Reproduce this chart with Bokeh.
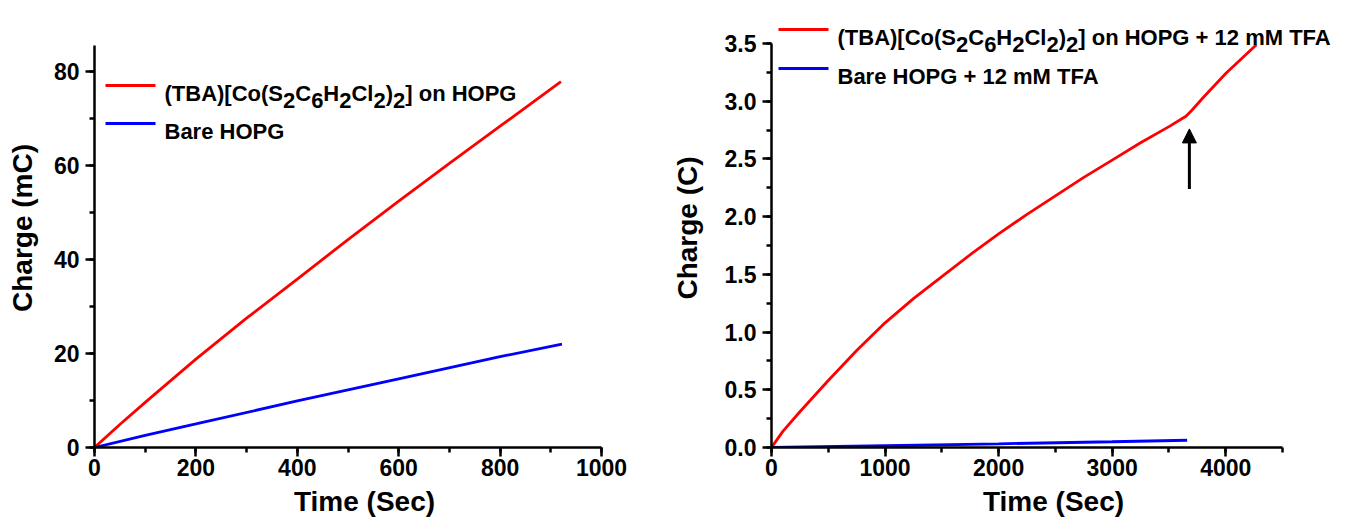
from bokeh.plotting import figure
from bokeh.models import Range1d, SingleIntervalTicker, NumeralTickFormatter, Label, Arrow, NormalHead
from bokeh.layouts import row
from bokeh.embed import file_html
from bokeh.resources import INLINE

# ---------------- data ----------------
time_left_red = [0, 50, 100, 200, 300, 400, 500, 600, 700, 800, 920]
charge_left_red = [0, 4.9, 9.6, 18.8, 27.5, 35.8, 44.2, 52.4, 60.4, 68.3, 77.8]
time_left_blue = [0, 100, 200, 400, 600, 800, 922]
charge_left_blue = [0, 2.6, 5.0, 9.9, 14.6, 19.3, 22.0]

time_right_red = [0, 100, 250, 500, 750, 1000, 1250, 1500, 1750, 2000, 2250, 2500,
                  2750, 3000, 3250, 3500, 3650, 3700, 3800, 4000, 4270]
charge_right_red = [0, 0.14, 0.31, 0.58, 0.84, 1.08, 1.29, 1.48, 1.67, 1.85, 2.02, 2.18,
                    2.34, 2.49, 2.64, 2.78, 2.87, 2.92, 3.03, 3.24, 3.49]
time_right_blue = [0, 1000, 2000, 3000, 3660]
charge_right_blue = [0, 0.015, 0.032, 0.050, 0.063]

left_labels = ["(TBA)[Co(S2C6H2Cl2)2] on HOPG", "Bare HOPG"]
right_labels = ["(TBA)[Co(S2C6H2Cl2)2] on HOPG + 12 mM TFA", "Bare HOPG + 12 mM TFA"]
x_title = "Time (Sec)"
left_y_title = "Charge (mC)"
right_y_title = "Charge (C)"

# axis extents
left_x_axis = (0, 1000)
left_y_axis = (0, 85.46)
right_x_axis = (0, 4500)
right_y_axis = (0, 3.5)

# arrow marking the kink (data units)
arrow_time = 3680
arrow_from = 2.24
arrow_to = 2.76

RED = "#ff0000"
BLUE = "#0000ff"
FONT = "Liberation Sans"
LEG_FS = 22
LW = 2.8

# Arial/Liberation Sans Bold advance widths (per 1000 em)
W = {" ": 278, "(": 333, ")": 333, "[": 333, "]": 333, "+": 584, "A": 722, "B": 722,
     "C": 722, "F": 611, "G": 778, "H": 722, "M": 833, "O": 778, "P": 667, "S": 667,
     "T": 611, "a": 556, "e": 556, "l": 278, "m": 889, "n": 611, "o": 611, "r": 389}


def text_width(s, fs):
    return sum(W.get(c, 556) for c in s) * fs / 1000.0


def chem_fragments(label):
    """Split label so that the formula's digits become subscripts."""
    if not label.startswith("(TBA)"):
        return [(label, False)]
    head = "(TBA)[Co(S"
    rest_tail = label[len("(TBA)[Co(S2C6H2Cl2)2"):]
    return [(head, False), ("2", True), ("C", False), ("6", True), ("H", False), ("2", True),
            ("Cl", False), ("2", True), (")", False), ("2", True), (rest_tail, False)]


def make_fig(width, height, left, right, top, bottom, xr, yr, xint, yint, ylab_standoff,
             yfmt=None):
    p = figure(width=width, height=height, x_range=Range1d(*xr), y_range=Range1d(*yr),
               output_backend="svg", toolbar_location=None,
               min_border_left=left, min_border_right=right,
               min_border_top=top, min_border_bottom=bottom)
    p.xgrid.visible = False
    p.ygrid.visible = False
    p.outline_line_color = None
    p.xaxis.ticker = SingleIntervalTicker(interval=xint, num_minor_ticks=2)
    p.yaxis.ticker = SingleIntervalTicker(interval=yint, num_minor_ticks=2)
    if yfmt:
        p.yaxis.formatter = NumeralTickFormatter(format=yfmt)
    for ax in (p.xaxis[0], p.yaxis[0]):
        ax.axis_line_width = 2.5
        ax.axis_line_color = "black"
        ax.major_tick_line_width = 2.5
        ax.minor_tick_line_width = 2.5
        ax.major_tick_line_color = "black"
        ax.minor_tick_line_color = "black"
        ax.major_tick_in = 0
        ax.minor_tick_in = 0
        ax.major_label_text_font = FONT
        ax.major_label_text_font_style = "bold"
        ax.major_label_text_font_size = "23px"
        ax.major_label_text_color = "black"
        ax.axis_label_text_font = FONT
        ax.axis_label_text_font_style = "bold"
        ax.axis_label_text_font_size = "28px"
        ax.axis_label_text_color = "black"
    p.xaxis.major_tick_out = 9
    p.xaxis.minor_tick_out = 5
    p.yaxis.major_tick_out = 9
    p.yaxis.minor_tick_out = 5
    p.xaxis.major_label_standoff = 2
    p.yaxis.major_label_standoff = 6
    p.xaxis.axis_label_standoff = 7
    p.yaxis.axis_label_standoff = ylab_standoff
    return p


def add_legend(p, frame, entries, line_x0, line_x1, text_x, line_ys):
    L, Wd, T, H, (x0, x1), (y0, y1) = frame

    def dx(px):
        return x0 + (px - L) / Wd * (x1 - x0)

    def dy(py):
        return y1 - (py - T) / H * (y1 - y0)

    for (label, color), ly in zip(entries, line_ys):
        p.add_layout(Arrow(end=None, x_start=dx(line_x0), y_start=dy(ly), x_end=dx(line_x1),
                           y_end=dy(ly), line_color=color, line_width=LW))
        cx = text_x
        base = ly + 8
        for frag, sub in chem_fragments(label):
            p.add_layout(Label(x=dx(cx), y=dy(base + (7 if sub else 0)), text=frag,
                               text_font=FONT, text_font_style="bold",
                               text_font_size=f"{LEG_FS}px", text_color="black",
                               text_baseline="alphabetic", text_align="left"))
            cx += text_width(frag, LEG_FS)


FIG_H = 523
TOP = 8          # frame top (both frames share it, Bokeh aligns frames in a row)
BOTTOM = 447     # frame bottom (x axis) in page px
FRAME_H = BOTTOM - TOP
BORDER_B = FIG_H - BOTTOM

# ---------------- left figure ----------------
# axis: x 94..601 px (0..1000), y 447..45 px (0..85.46); frame widened so the title sits right
L_FW = 540
l_xr = (0, left_x_axis[1] * L_FW / 507.0)
l_yr = (0, left_y_axis[1] * FRAME_H / (BOTTOM - 45.0))
left_frame = (94, L_FW, TOP, FRAME_H, l_xr, l_yr)
p1 = make_fig(638, FIG_H, 94, 638 - 94 - L_FW, TOP, BORDER_B, l_xr, l_yr, 200, 20, 13)
p1.xaxis.bounds = left_x_axis
p1.yaxis.bounds = left_y_axis
p1.line(time_left_red, charge_left_red, line_color=RED, line_width=LW)
p1.line(time_left_blue, charge_left_blue, line_color=BLUE, line_width=LW)
p1.xaxis.axis_label = x_title
p1.yaxis.axis_label = left_y_title
add_legend(p1, left_frame, [(left_labels[0], RED), (left_labels[1], BLUE)],
           105, 155, 164, [85, 123])

# ---------------- right figure ----------------
# axis: x 771..1282 px (0..4500), y 447..43 px (0..3.5); frame extended for the legend
R_FW = 564
r_xr = (0, right_x_axis[1] * R_FW / 511.0)
r_yr = (0, right_y_axis[1] * FRAME_H / (BOTTOM - 43.0))
right_frame = (771, R_FW, TOP, FRAME_H, r_xr, r_yr)
p2 = make_fig(708, FIG_H, 133, 708 - 133 - R_FW, TOP, BORDER_B, r_xr, r_yr, 1000, 0.5, 19, "0.0")
p2.xaxis.bounds = right_x_axis
p2.yaxis.bounds = right_y_axis
p2.line(time_right_red, charge_right_red, line_color=RED, line_width=LW)
p2.line(time_right_blue, charge_right_blue, line_color=BLUE, line_width=LW)
p2.xaxis.axis_label = x_title
p2.yaxis.axis_label = right_y_title
p2.add_layout(Arrow(end=NormalHead(size=14, fill_color="black", line_color="black"),
                    x_start=arrow_time, y_start=arrow_from, x_end=arrow_time, y_end=arrow_to,
                    line_color="black", line_width=3))
add_legend(p2, right_frame, [(right_labels[0], RED), (right_labels[1], BLUE)],
           778, 828, 837, [29, 68])

layout = row(p1, p2)
open("out.html", "w").write(file_html(layout, INLINE))
